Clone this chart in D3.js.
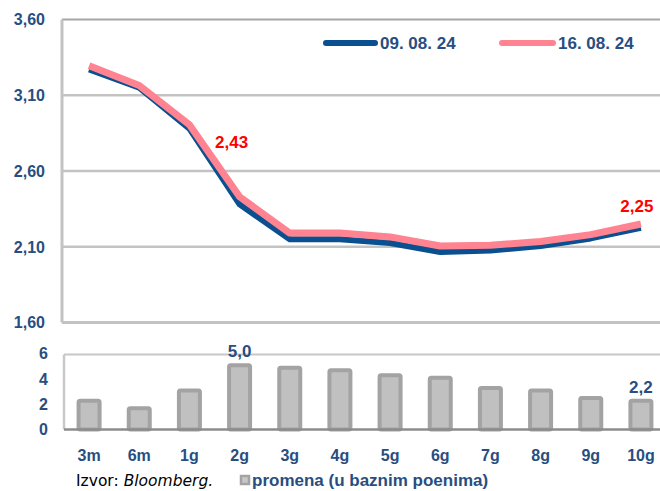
<!DOCTYPE html>
<html>
<head>
<meta charset="utf-8">
<script src="https://cdn.jsdelivr.net/npm/d3@7"></script>
<style>
  body { margin: 0; background: #fff; }
  svg { display: block; font-family: "Liberation Sans", Arial, sans-serif; }
  .tick-lbl { font-weight: bold; font-size: 16px; fill: #284e80; }
</style>
</head>
<body>
<svg id="chart" width="660" height="491"></svg>
<script>
const categories = ["3m", "6m", "1g", "2g", "3g", "4g", "5g", "6g", "7g", "8g", "9g", "10g"];
const yield0908 = [3.27, 3.15, 2.88, 2.38, 2.15, 2.15, 2.125, 2.065, 2.075, 2.105, 2.155, 2.225];
const yield1608 = [3.295, 3.165, 2.905, 2.43, 2.19, 2.19, 2.165, 2.105, 2.11, 2.135, 2.18, 2.25];
const changeBp = [2.2, 1.6, 3.0, 5.0, 4.8, 4.6, 4.2, 4.0, 3.2, 3.0, 2.4, 2.2];
const topTicks = [1.6, 2.1, 2.6, 3.1, 3.6];
const bottomTicks = [0, 2, 4, 6];
const seriesNames = ["09. 08. 24", "16. 08. 24"];

const svg = d3.select("#chart");
const fmt = v => v.toFixed(2).replace(".", ",");
const fmt1 = v => v.toFixed(1).replace(".", ",");

const x = d3.scaleBand().domain(categories).range([64, 666]);
const cx = c => x(c) + x.bandwidth() / 2;

// top panel
const y1 = d3.scaleLinear().domain([1.6, 3.6]).range([322.5, 19.5]);
const topG = svg.append("g");

topG.selectAll("line.grid")
  .data(topTicks.slice(1, -1))
  .enter().append("line")
  .attr("x1", 62).attr("x2", 664)
  .attr("y1", d => y1(d)).attr("y2", d => y1(d))
  .attr("stroke", "#c3c3c3").attr("stroke-width", 2.5);

topG.append("line").attr("x1", 62).attr("x2", 664).attr("y1", y1(3.6)).attr("y2", y1(3.6))
  .attr("stroke", "#a6a6a6").attr("stroke-width", 2);
topG.append("line").attr("x1", 62).attr("x2", 664).attr("y1", y1(1.6)).attr("y2", y1(1.6))
  .attr("stroke", "#c3c3c3").attr("stroke-width", 3);
topG.append("line").attr("x1", 62).attr("x2", 62).attr("y1", y1(3.6)).attr("y2", y1(1.6))
  .attr("stroke", "#c3c3c3").attr("stroke-width", 3);

topG.selectAll("text.tick-lbl")
  .data(topTicks)
  .enter().append("text")
  .attr("class", "tick-lbl")
  .attr("x", 45).attr("y", d => y1(d))
  .attr("dy", "0.36em")
  .attr("text-anchor", "end")
  .text(fmt);

const line = d3.line().x((d, i) => cx(categories[i])).y(d => y1(d));
topG.append("path").datum(yield0908).attr("d", line)
  .attr("fill", "none").attr("stroke", "#0a4f8f").attr("stroke-width", 6)
  .attr("stroke-linejoin", "round");
topG.append("path").datum(yield1608).attr("d", line)
  .attr("fill", "none").attr("stroke", "#ff8391").attr("stroke-width", 7)
  .attr("stroke-linejoin", "round");

// value labels on the 16.08 line
const lineLabels = [{ i: 3, dx: -8, dy: -49 }, { i: 11, dx: -4, dy: -12 }];
topG.selectAll("text.vlbl")
  .data(lineLabels)
  .enter().append("text")
  .attr("class", "vlbl")
  .attr("x", d => cx(categories[d.i]) + d.dx)
  .attr("y", d => y1(yield1608[d.i]) + d.dy)
  .attr("text-anchor", "middle")
  .attr("font-size", 17).attr("font-weight", "bold").attr("fill", "#ff0000")
  .text(d => fmt(yield1608[d.i]));

// legend
const legend = [
  { name: seriesNames[0], color: "#0a4f8f", x1: 326, x2: 375, tx: 380 },
  { name: seriesNames[1], color: "#ff8391", x1: 502, x2: 553, tx: 558 }
];
legend.forEach(l => {
  topG.append("line").attr("x1", l.x1).attr("x2", l.x2).attr("y1", 43).attr("y2", 43)
    .attr("stroke", l.color).attr("stroke-width", 6).attr("stroke-linecap", "round");
  topG.append("text").attr("x", l.tx).attr("y", 49)
    .attr("font-size", 17).attr("font-weight", "bold").attr("fill", "#284e80")
    .text(l.name);
});

// bottom panel
const y2 = d3.scaleLinear().domain([0, 6]).range([429.5, 353.5]);
const bot = svg.append("g");

bot.append("line").attr("x1", 64).attr("x2", 664).attr("y1", 354.5).attr("y2", 354.5)
  .attr("stroke", "#c8c8c8").attr("stroke-width", 2);
bot.append("line").attr("x1", 64).attr("x2", 64).attr("y1", 354.5).attr("y2", y2(0))
  .attr("stroke", "#c8c8c8").attr("stroke-width", 2.5);

const barW = 21;
bot.selectAll("rect.bar")
  .data(changeBp)
  .enter().append("rect")
  .attr("class", "bar")
  .attr("x", (d, i) => cx(categories[i]) - barW / 2)
  .attr("y", d => y2(d) - 1)
  .attr("width", barW)
  .attr("height", d => y2(0) - y2(d) + 1)
  .attr("rx", 1.5)
  .attr("fill", "#c0c0c0")
  .attr("stroke", "#a3a3a3").attr("stroke-width", 4);

bot.append("line").attr("x1", 64).attr("x2", 664).attr("y1", y2(0)).attr("y2", y2(0))
  .attr("stroke", "#8c8c8c").attr("stroke-width", 2.5);

bot.selectAll("text.tick-lbl")
  .data(bottomTicks)
  .enter().append("text")
  .attr("class", "tick-lbl")
  .attr("x", 48).attr("y", d => y2(d))
  .attr("dy", "0.36em")
  .attr("text-anchor", "end")
  .text(d => d);

const barLabels = [3, 11];
bot.selectAll("text.blbl")
  .data(barLabels)
  .enter().append("text")
  .attr("class", "blbl")
  .attr("x", i => cx(categories[i]))
  .attr("y", i => y2(changeBp[i]) - 9)
  .attr("text-anchor", "middle")
  .attr("font-size", 17).attr("font-weight", "bold").attr("fill", "#284e80")
  .text(i => fmt1(changeBp[i]));

bot.selectAll("text.cat")
  .data(categories)
  .enter().append("text")
  .attr("class", "tick-lbl")
  .attr("x", d => cx(d)).attr("y", 461)
  .attr("text-anchor", "middle")
  .text(d => d);

// source + bar legend
const foot = svg.append("text").attr("x", 76).attr("y", 486)
  .attr("font-family", "'DejaVu Sans', sans-serif").attr("font-size", 15.5).attr("fill", "#000");
foot.append("tspan").text("Izvor: ");
foot.append("tspan").attr("font-style", "italic").text("Bloomberg.");

svg.append("rect").attr("x", 241).attr("y", 476).attr("width", 8).attr("height", 8)
  .attr("fill", "#c8c8c8").attr("stroke", "#a3a3a3").attr("stroke-width", 2.5);
svg.append("text").attr("x", 252).attr("y", 486)
  .attr("font-size", 17).attr("font-weight", "bold").attr("fill", "#284e80")
  .text("promena (u baznim poenima)");
</script>
</body>
</html>
